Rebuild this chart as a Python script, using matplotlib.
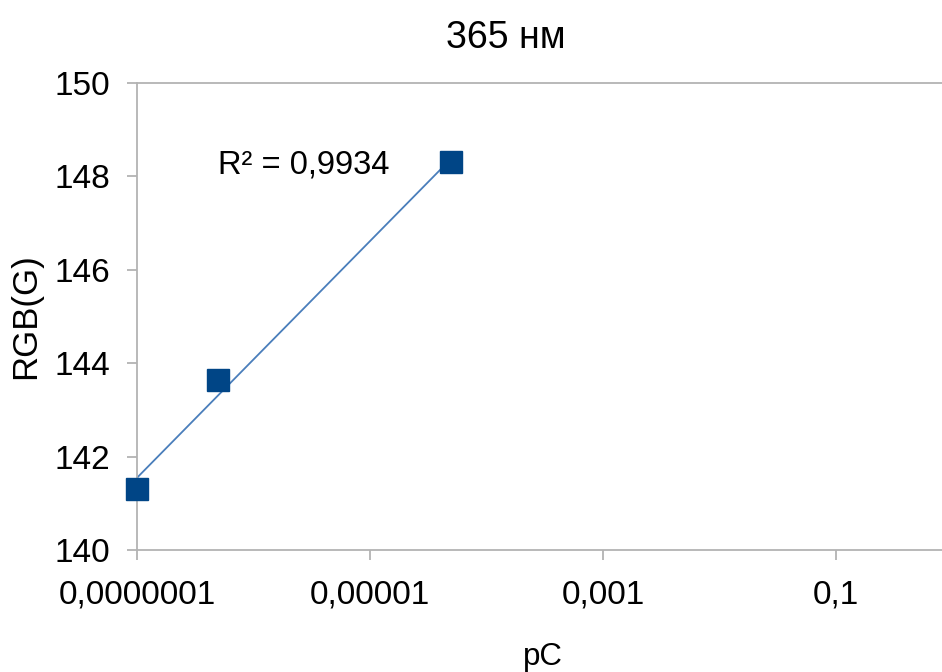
import numpy as np
import matplotlib
matplotlib.use("Agg")
import matplotlib.pyplot as plt
from matplotlib.ticker import FuncFormatter

plt.rcParams['font.family'] = ['Liberation Sans', 'DejaVu Sans']

# measurements
pc = [1e-7, 5e-7, 5e-5]
rgb_g = [141.3, 143.65, 148.3]
r2_label = "R² = 0,9934"
x_ticks = [1e-7, 1e-5, 1e-3, 1e-1]
x_tick_labels = ["0,0000001", "0,00001", "0,001", "0,1"]
y_ticks = [140, 142, 144, 146, 148, 150]

grey = "#b3b3b3"
blue = "#004586"

fig = plt.figure(figsize=(9.42, 6.72), dpi=100)
ax = fig.add_axes([137 / 942, 1 - 550 / 672, 815.5 / 942, 467 / 672])

# logarithmic trend line y = a*log10(x) + b
lx = np.log10(pc)
a, b = np.polyfit(lx, rgb_g, 1)
xs = np.logspace(lx.min(), lx.max(), 50)
ax.plot(xs, a * np.log10(xs) + b, color="#4a7ebb", lw=1.3, zorder=2)

ax.plot(pc, rgb_g, linestyle="none", marker="s", markersize=16.5,
        color=blue, zorder=3, clip_on=False)

ax.set_xscale("log")
ax.set_xlim(1e-7, 1)
ax.set_ylim(140, 150)
ax.set_xticks(x_ticks)
ax.xaxis.set_major_formatter(FuncFormatter(
    lambda v, p: x_tick_labels[x_ticks.index(v)] if v in x_ticks else ""))
ax.xaxis.set_minor_locator(plt.NullLocator())
ax.set_yticks(y_ticks)

ax.spines["right"].set_visible(False)
for s in ["top", "left", "bottom"]:
    ax.spines[s].set_color(grey)
    ax.spines[s].set_linewidth(1.3)

ax.tick_params(axis="both", colors=grey, width=1.3, length=7.5,
               labelcolor="black", labelsize=24)
ax.tick_params(axis="x", pad=14)
ax.tick_params(axis="y", pad=12)

ax.text(5e-7, 148.07, r2_label, fontsize=23.5, va="baseline", ha="left")

fig.text(506 / 942, 1 - 48 / 672, "365 нм", fontsize=27, ha="center", va="baseline")
fig.text(543 / 942, 1 - 665 / 672, "pC", fontsize=22.5, ha="center", va="baseline")
fig.text(26 / 942, 1 - 316 / 672, "RGB(G)", fontsize=25, ha="center",
         va="center", rotation=90)

fig.savefig("out.png", dpi=100)
